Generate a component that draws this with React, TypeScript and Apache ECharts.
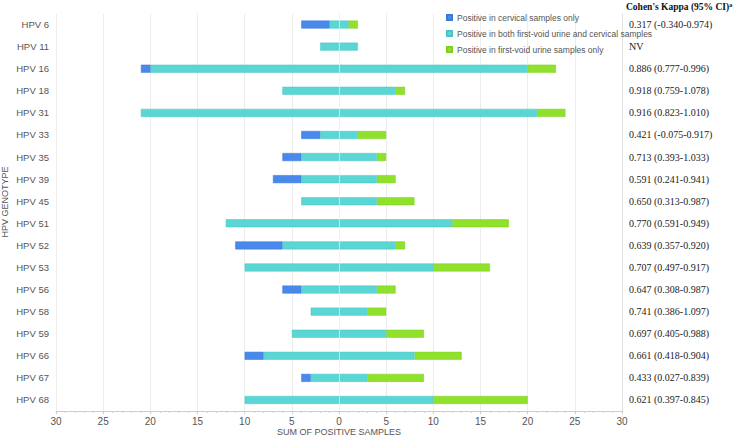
import React, { useEffect, useRef } from "react";
import * as echarts from "echarts";

const categories = ["HPV 6", "HPV 11", "HPV 16", "HPV 18", "HPV 31", "HPV 33", "HPV 35", "HPV 39", "HPV 45", "HPV 51", "HPV 52", "HPV 53", "HPV 56", "HPV 58", "HPV 59", "HPV 66", "HPV 67", "HPV 68"];
const cervicalOnly = [3, 0, 1, 0, 0, 2, 2, 3, 0, 0, 5, 0, 2, 0, 0, 2, 1, 0];
const bothSamples = [2, 4, 40, 12, 42, 4, 8, 8, 8, 24, 12, 20, 8, 6, 10, 16, 6, 20];
const urineOnly = [1, 0, 3, 1, 3, 3, 1, 2, 4, 6, 1, 6, 2, 2, 4, 5, 6, 10];
const kappa = ["0.317 (-0.340-0.974)", "NV", "0.886 (0.777-0.996)", "0.918 (0.759-1.078)", "0.916 (0.823-1.010)", "0.421 (-0.075-0.917)", "0.713 (0.393-1.033)", "0.591 (0.241-0.941)", "0.650 (0.313-0.987)", "0.770 (0.591-0.949)", "0.639 (0.357-0.920)", "0.707 (0.497-0.917)", "0.647 (0.308-0.987)", "0.741 (0.386-1.097)", "0.697 (0.405-0.988)", "0.661 (0.418-0.904)", "0.433 (0.027-0.839)", "0.621 (0.397-0.845)"];

const NAME_CERV = "Positive in cervical samples only";
const NAME_BOTH = "Positive in both first-void urine and cervical samples";
const NAME_URINE = "Positive in first-void urine samples only";

const BLUE = "#4a89ec";
const CYAN = "#5ad6d4";
const GREEN = "#8fe12c";

const nz = (v: number) => (v === 0 ? null : v);

export default function App() {
  const ref = useRef<HTMLDivElement>(null);
  useEffect(() => {
    const chart = echarts.init(ref.current!, undefined, { renderer: "svg" });
    const sans = "Liberation Sans, Arial, sans-serif";
    const serif = "Liberation Serif, Times New Roman, serif";
    const barW = 8;
    chart.setOption({
      animation: false,
      backgroundColor: "#fff",
      textStyle: { fontFamily: sans },
      grid: { left: 56, right: 117, top: 13.5, bottom: 27, containLabel: false, outerBoundsMode: "none" },
      legend: {
        data: [NAME_CERV, NAME_BOTH, NAME_URINE],
        orient: "vertical",
        left: 441,
        top: 8,
        itemWidth: 5,
        itemHeight: 5,
        itemGap: 7,
        icon: "rect",
        textStyle: { fontSize: 8.5, color: "#555", fontFamily: sans },
      },
      graphic: [
        {
          type: "text",
          left: 626,
          top: 2,
          style: {
            text: "{m|Cohen's Kappa (95% CI)}{s|a}",
            rich: {
              m: { fontFamily: serif, fontWeight: "bold", fontSize: 9.5, fill: "#111" },
              s: { fontFamily: serif, fontWeight: "bold", fontSize: 6, fill: "#111", verticalAlign: "top", padding: [0, 0, 4, 0] },
            },
          },
        },
        {
          type: "text",
          x: 5,
          y: 202,
          rotation: Math.PI / 2,
          style: {
            text: "HPV GENOTYPE",
            fontFamily: sans,
            fontSize: 9,
            fill: "#555",
            align: "center",
            verticalAlign: "middle",
          },
        },
        {
          type: "text",
          x: 339,
          y: 432,
          style: {
            text: "SUM OF POSITIVE SAMPLES",
            fontFamily: sans,
            fontSize: 9,
            fill: "#555",
            align: "center",
            verticalAlign: "middle",
          },
        },
      ],
      xAxis: {
        type: "value",
        min: -30,
        max: 30,
        interval: 5,
        axisLine: { show: true, lineStyle: { color: "#ccc" } },
        axisTick: { show: true, length: 3, lineStyle: { color: "#ccc" } },
        minorTick: { show: true, splitNumber: 5, length: 2, lineStyle: { color: "#ccc" } },
        axisLabel: { fontSize: 10, color: "#555", margin: 5, formatter: (v: number) => String(Math.abs(v)) },
        splitLine: { show: true, lineStyle: { color: "#ececec" } },
      },
      yAxis: [
        {
          type: "category",
          data: categories,
          inverse: true,
          axisLine: { show: true, lineStyle: { color: "#e2e2e2" } },
          axisTick: { show: false },
          axisLabel: { fontSize: 9.5, color: "#555", margin: 7 },
          splitLine: { show: false },
        },
        {
          type: "category",
          data: categories,
          inverse: true,
          position: "right",
          axisLine: { show: true, lineStyle: { color: "#e2e2e2" } },
          axisTick: { show: false },
          axisLabel: {
            fontSize: 10,
            color: "#222",
            fontFamily: serif,
            margin: 7,
            formatter: (_v: string, i: number) => kappa[i],
          },
          splitLine: { show: false },
        },
      ],
      series: [
        {
          name: NAME_BOTH,
          type: "bar",
          stack: "t",
          barWidth: barW,
          data: bothSamples.map((v) => nz(v / 2)),
          itemStyle: { color: CYAN, borderColor: "#4cc4c2", borderWidth: 0.5 },
          markLine: {
            silent: true,
            symbol: "none",
            label: { show: false },
            lineStyle: { color: "rgba(255,255,255,0.55)", type: "solid", width: 1 },
            data: [{ xAxis: 0 }],
          },
          z: 3,
        },
        {
          name: NAME_BOTH,
          type: "bar",
          stack: "t",
          barWidth: barW,
          data: bothSamples.map((v) => nz(-v / 2)),
          itemStyle: { color: CYAN, borderColor: "#4cc4c2", borderWidth: 0.5 },
        },
        {
          name: NAME_CERV,
          type: "bar",
          stack: "t",
          barWidth: barW,
          data: cervicalOnly.map((v) => nz(-v)),
          itemStyle: { color: BLUE, borderColor: "#3d79d8", borderWidth: 0.5 },
        },
        {
          name: NAME_URINE,
          type: "bar",
          stack: "t",
          barWidth: barW,
          data: urineOnly.map(nz),
          itemStyle: { color: GREEN, borderColor: "#7fcf22", borderWidth: 0.5 },
        },
      ],
    });
    return () => chart.dispose();
  }, []);
  return (
    <div
      ref={ref}
      style={{ position: "absolute", left: 0, top: 0, width: 739, height: 438 }}
    />
  );
}
